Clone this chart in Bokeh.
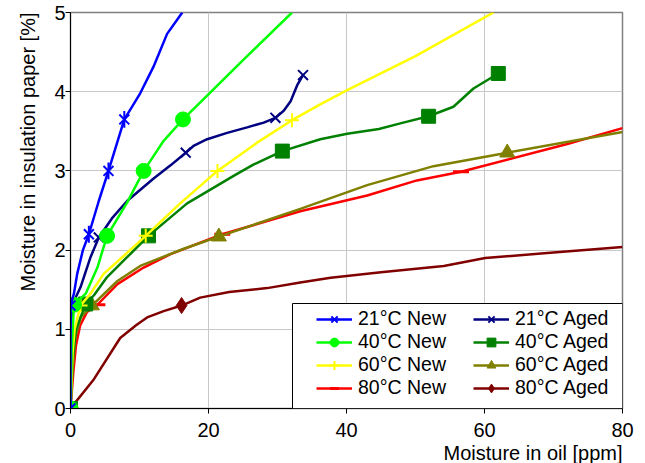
import math
from bokeh.plotting import figure
from bokeh.models import Range1d, Legend, LegendItem, BoxAnnotation, FixedTicker, Title
from bokeh.embed import file_html
from bokeh.resources import INLINE

# ---------------- data ----------------
X_TICKS = [0, 20, 40, 60, 80]
Y_TICKS = [0, 1, 2, 3, 4, 5]
X_TITLE = "Moisture in oil [ppm]"
Y_TITLE = "Moisture in insulation paper [%]"

# 21°C New
new21_lx = [0, 0, 0, 0.5, 0.97, 1.8, 2.66, 4.1, 5.5, 7.8, 10.1, 12.0, 14.0, 16.2]
new21_ly = [0, 0.7, 1.3, 1.45, 1.70, 2.0, 2.2, 2.62, 3.0, 3.65, 3.98, 4.31, 4.73, 5.0]
new21_mx = [0, 0, 2.66, 5.5, 7.8]
new21_my = [0, 1.3, 2.2, 3.0, 3.65]

# 21°C Aged
aged21_lx = [0, 0.1, 0.2, 1.45, 2.9, 4.1, 6.0, 8.2, 12.0, 14.5, 16.7, 17.9, 19.8, 22.7, 25.6, 28.0, 29.7, 30.9, 31.9, 32.9, 33.7]
aged21_ly = [0, 0.8, 1.3, 1.53, 1.91, 2.16, 2.4, 2.62, 2.90, 3.07, 3.23, 3.32, 3.40, 3.48, 3.55, 3.61, 3.67, 3.76, 3.88, 4.09, 4.21]
aged21_mx = [0, 0.2, 4.1, 16.7, 29.7, 33.7]
aged21_my = [0, 1.3, 2.16, 3.23, 3.67, 4.21]

# 40°C New
new40_lx = [0, 0.15, 0.5, 2.2, 3.9, 5.3, 8.2, 10.6, 11.6, 13.5, 16.3, 19.8, 24.9, 32.1]
new40_ly = [0, 0.7, 1.31, 1.45, 1.78, 2.18, 2.6, 3.0, 3.13, 3.38, 3.65, 3.95, 4.39, 5.0]
new40_mx = [0, 0.5, 5.3, 10.6, 16.3]
new40_my = [0, 1.31, 2.18, 3.0, 3.65]

# 40°C Aged
aged40_lx = [0, 0.3, 0.8, 2.2, 3.4, 5.3, 8.2, 11.3, 16.9, 23.7, 26.5, 30.7, 36.2, 40.1, 44.7, 47.8, 51.9, 55.5, 58.4, 62.0]
aged40_ly = [0, 0.6, 1.0, 1.32, 1.43, 1.66, 1.91, 2.18, 2.59, 2.94, 3.08, 3.25, 3.40, 3.47, 3.53, 3.60, 3.69, 3.81, 4.04, 4.23]
aged40_mx = [0, 2.2, 11.3, 30.7, 51.9, 62.0]
aged40_my = [0, 1.32, 2.18, 3.25, 3.69, 4.23]

# 60°C New
new60_lx = [0, 0.3, 0.6, 1.45, 2.9, 4.8, 7.5, 10.9, 15.9, 21.3, 27.1, 32.1, 36.2, 40.1, 50.0, 61.3]
new60_ly = [0, 0.7, 1.0, 1.3, 1.45, 1.70, 1.91, 2.18, 2.59, 3.0, 3.36, 3.64, 3.84, 4.02, 4.45, 5.0]
new60_mx = [0, 1.45, 10.9, 21.3, 32.1]
new60_my = [0, 1.3, 2.18, 3.0, 3.64]

# 60°C Aged
aged60_lx = [0, 0.3, 0.7, 1.5, 3.1, 6.8, 10.1, 16.5, 21.5, 33.3, 43.0, 52.6, 63.3, 80.0]
aged60_ly = [0, 0.5, 0.9, 1.15, 1.30, 1.61, 1.80, 2.02, 2.17, 2.52, 2.82, 3.06, 3.23, 3.49]
aged60_mx = [0, 3.1, 21.5, 63.3]
aged60_my = [0, 1.30, 2.17, 3.23]

# 80°C New
new80_lx = [0, 0.4, 0.8, 1.4, 2.4, 3.9, 6.8, 10.6, 14.5, 22.0, 33.3, 43.0, 50.2, 56.6, 72.0, 80.0]
new80_ly = [0, 0.45, 0.8, 1.05, 1.22, 1.31, 1.57, 1.78, 1.95, 2.2, 2.49, 2.69, 2.88, 2.99, 3.34, 3.54]
new80_mx = [0, 3.9, 22.0, 56.6]
new80_my = [0, 1.31, 2.2, 2.99]

# 80°C Aged
aged80_lx = [0, 3.4, 7.2, 9.5, 11.1, 13.5, 16.1, 18.8, 23.0, 28.5, 33.3, 37.7, 45.0, 54.1, 60.1, 70.0, 80.0]
aged80_ly = [0, 0.37, 0.89, 1.05, 1.15, 1.23, 1.3, 1.40, 1.47, 1.52, 1.59, 1.65, 1.72, 1.80, 1.90, 1.97, 2.04]
aged80_mx = [0, 16.1]
aged80_my = [0, 1.3]

LABELS_NEW = ["21°C New", "40°C New", "60°C New", "80°C New"]
LABELS_AGED = ["21°C Aged", "40°C Aged", "60°C Aged", "80°C Aged"]

FONT = "Liberation Sans"
W, H = 645, 463
BL, BR, BT, BB = 70, 23, 12, 55
FRAME_W = W - BL - BR

p = figure(width=W, height=H, output_backend="svg", toolbar_location=None,
           x_range=Range1d(0, 80), y_range=Range1d(0, 5),
           min_border_left=BL, min_border_right=BR, min_border_top=BT, min_border_bottom=BB)
p.background_fill_color = "white"
p.border_fill_color = "white"
p.outline_line_color = "#808080"
p.outline_line_width = 1.5

for ax, ticks in ((p.xaxis, X_TICKS), (p.yaxis, Y_TICKS)):
    ax.ticker = FixedTicker(ticks=ticks)
    ax.axis_line_color = "black"
    ax.axis_line_width = 1
    ax.major_tick_line_color = "black"
    ax.major_tick_out = 5
    ax.major_tick_in = 0
    ax.minor_tick_line_color = None
    ax.major_label_text_font = FONT
    ax.major_label_text_font_size = "20px"
    ax.major_label_text_color = "black"

p.xaxis.major_label_standoff = 9
p.yaxis.major_label_standoff = 0

p.xgrid.grid_line_color = "#C8C8C8"
p.ygrid.grid_line_color = "#C8C8C8"

# axis titles: right-aligned (x) and top-aligned (y) as in the reference
p.add_layout(Title(text=X_TITLE, align="right", standoff=0, offset=0,
                   text_font=FONT, text_font_size="20px", text_font_style="normal",
                   text_color="black"), "below")
p.add_layout(Title(text=Y_TITLE, align="right", standoff=25, offset=0,
                   text_font=FONT, text_font_size="20px", text_font_style="normal",
                   text_color="black"), "left")

series = [
    (new21_lx, new21_ly, new21_mx, new21_my, "#0000FF", "asterisk", 14, False),
    (new40_lx, new40_ly, new40_mx, new40_my, "#00FF00", "circle", 15, True),
    (new60_lx, new60_ly, new60_mx, new60_my, "#FFFF00", "cross", 14, False),
    (new80_lx, new80_ly, new80_mx, new80_my, "#FF0000", "dash", 16, False),
    (aged21_lx, aged21_ly, aged21_mx, aged21_my, "#000080", "x", 14, False),
    (aged40_lx, aged40_ly, aged40_mx, aged40_my, "#008000", "square", 14, True),
    (aged60_lx, aged60_ly, aged60_mx, aged60_my, "#808000", "triangle", 15, True),
    (aged80_lx, aged80_ly, aged80_mx, aged80_my, "#800000", "diamond", 16, True),
]

draw_order = [7, 3, 6, 5, 2, 4, 1, 0]
rend = {}
for i in draw_order:
    lx, ly, mx, my, col, mk, sz, filled = series[i]
    lr = p.line(lx, ly, line_color=col, line_width=2.5)
    rs = [lr]
    if filled:
        rs.append(p.scatter(mx, my, marker=mk, size=sz, fill_color=col, line_color=col, line_width=1))
    elif mk == "asterisk":
        # Excel-style asterisk: an X plus a vertical stroke
        rs.append(p.scatter(mx, my, marker="x", size=sz, line_color=col, line_width=2))
        rs.append(p.scatter(mx, my, marker="dash", angle=math.pi / 2, size=sz * 1.2,
                            line_color=col, line_width=2))
    else:
        rs.append(p.scatter(mx, my, marker=mk, size=sz, line_color=col,
                            line_width=3 if mk == "dash" else 2))
    rend[i] = rs

box = BoxAnnotation(left=222, right=FRAME_W, bottom=0, top=105,
                    left_units="screen", right_units="screen",
                    top_units="screen", bottom_units="screen",
                    fill_color="white", fill_alpha=1.0,
                    line_color="black", line_width=1, line_alpha=1.0)
p.add_layout(box)

def make_legend(labels, idxs, loc):
    leg = Legend(items=[LegendItem(label=l, renderers=rend[i]) for l, i in zip(labels, idxs)],
                 location=loc, orientation="vertical")
    leg.border_line_color = None
    leg.background_fill_alpha = 0
    leg.padding = 0
    leg.margin = 0
    leg.spacing = 0
    leg.glyph_width = 36
    leg.glyph_height = 22
    leg.label_height = 22
    leg.label_standoff = 6
    leg.label_text_font = FONT
    leg.label_text_font_size = "19.5px"
    leg.label_text_color = "black"
    return leg

p.add_layout(make_legend(LABELS_NEW, [0, 1, 2, 3], (246, 9)))
p.add_layout(make_legend(LABELS_AGED, [4, 5, 6, 7], (403, 9)))

open("out.html", "w").write(file_html(p, INLINE))
